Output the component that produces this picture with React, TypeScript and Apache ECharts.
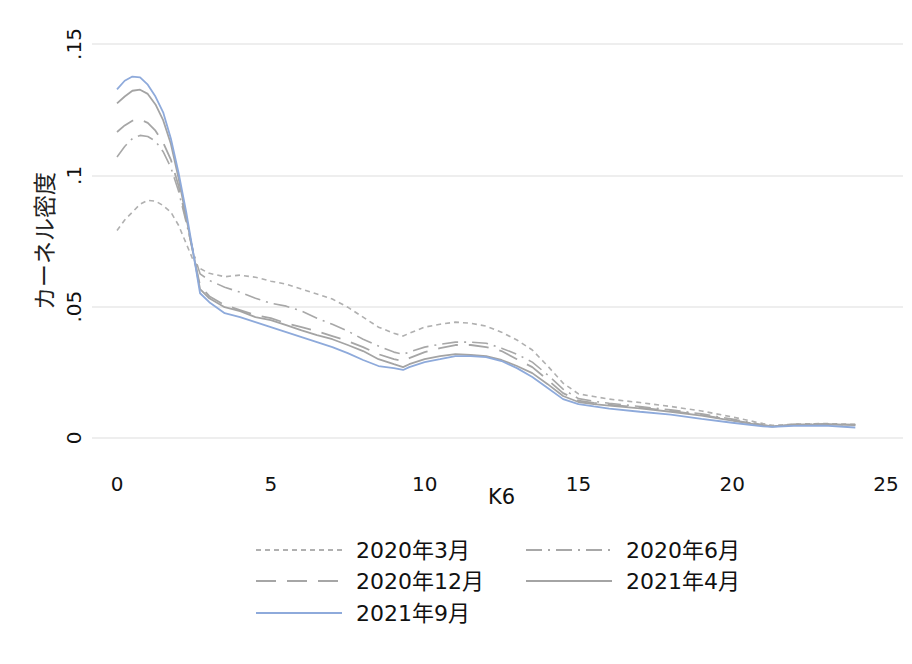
import React, { useEffect, useRef } from "react";
import * as echarts from "echarts";

const xs = [0, 0.25, 0.5, 0.75, 1, 1.25, 1.5, 1.75, 2, 2.25, 2.5, 2.7, 3, 3.5, 4, 4.5, 5, 5.5, 6, 6.5, 7, 7.5, 8, 8.5, 9, 9.3, 9.5, 10, 10.5, 11, 11.5, 12, 12.5, 13, 13.5, 14, 14.5, 15, 15.5, 16, 17, 18, 19, 20, 21, 21.3, 22, 23, 24];

const mar2020 = [0.079, 0.083, 0.086, 0.089, 0.0905, 0.0902, 0.0885, 0.086, 0.081, 0.074, 0.067, 0.0645, 0.0627, 0.0614, 0.062, 0.0612, 0.0597, 0.0586, 0.0567, 0.0548, 0.0529, 0.0498, 0.046, 0.0422, 0.0399, 0.0388, 0.0399, 0.0422, 0.0433, 0.0441, 0.0437, 0.0426, 0.0403, 0.0373, 0.0335, 0.0274, 0.0209, 0.0168, 0.0158, 0.0148, 0.0135, 0.012, 0.0103, 0.008, 0.0055, 0.0048, 0.0053, 0.0055, 0.0052];
const jun2020 = [0.107, 0.111, 0.114, 0.1152, 0.1148, 0.113, 0.109, 0.103, 0.094, 0.082, 0.07, 0.0625, 0.06, 0.0574, 0.0555, 0.0532, 0.0513, 0.0502, 0.0483, 0.0456, 0.0433, 0.0407, 0.0376, 0.035, 0.0327, 0.0319, 0.0327, 0.0346, 0.0357, 0.0365, 0.0365, 0.0361, 0.0342, 0.0319, 0.0289, 0.024, 0.0186, 0.015, 0.014, 0.0132, 0.012, 0.0107, 0.0092, 0.0072, 0.005, 0.0045, 0.0052, 0.0054, 0.0051];
const dec2020 = [0.1165, 0.119, 0.1208, 0.1212, 0.12, 0.117, 0.1125, 0.106, 0.096, 0.083, 0.069, 0.058, 0.054, 0.0506, 0.0487, 0.0468, 0.0456, 0.0437, 0.0422, 0.0407, 0.0388, 0.0369, 0.0346, 0.0319, 0.03, 0.0293, 0.0304, 0.0327, 0.0342, 0.0354, 0.0354, 0.0346, 0.0331, 0.03, 0.027, 0.0221, 0.0171, 0.0142, 0.0134, 0.0127, 0.0116, 0.0103, 0.0088, 0.0068, 0.0048, 0.0044, 0.0051, 0.0053, 0.005];
const apr2021 = [0.1274, 0.13, 0.1322, 0.1326, 0.131, 0.127, 0.121, 0.112, 0.099, 0.084, 0.069, 0.0567, 0.0532, 0.0498, 0.0483, 0.046, 0.0449, 0.043, 0.041, 0.0392, 0.0376, 0.0354, 0.0331, 0.03, 0.0281, 0.027, 0.0281, 0.03, 0.0312, 0.0319, 0.0316, 0.0312, 0.0297, 0.0274, 0.0247, 0.0205, 0.016, 0.0137, 0.0129, 0.0123, 0.0113, 0.01, 0.0085, 0.0066, 0.0047, 0.0043, 0.005, 0.0052, 0.0049];
const sep2021 = [0.1327, 0.136, 0.1376, 0.1373, 0.1345, 0.13, 0.124, 0.114, 0.101, 0.086, 0.069, 0.0551, 0.0517, 0.0475, 0.046, 0.0441, 0.0422, 0.0403, 0.0384, 0.0365, 0.0346, 0.0323, 0.0297, 0.0274, 0.0266, 0.0259, 0.027, 0.0289, 0.03, 0.0312, 0.0312, 0.0308, 0.0293, 0.0266, 0.0232, 0.019, 0.0148, 0.0129, 0.012, 0.0112, 0.01, 0.0089, 0.0073, 0.0058, 0.0044, 0.0042, 0.0046, 0.0047, 0.004];

const seriesNames = ["2020年3月", "2020年6月", "2020年12月", "2021年4月", "2021年9月"];
const xTicks = [0, 5, 10, 15, 20, 25];
const yTickLabels: Record<string, string> = { "0": "0", "0.05": ".05", "0.1": ".1", "0.15": ".15" };

const FONT = "'DejaVu Sans', 'Noto Sans CJK JP', sans-serif";

export default function App() {
  const ref = useRef<HTMLDivElement>(null);
  useEffect(() => {
    if (!ref.current) return;
    const chart = echarts.init(ref.current, null, { renderer: "svg" });
    const values = [mar2020, jun2020, dec2020, apr2021, sep2021];
    const styles = [
      { color: "#b0b0b0", type: [5, 4], width: 1.6 },
      { color: "#a8a8a8", type: [16, 6, 2, 6], width: 1.6 },
      { color: "#a6a6a6", type: [20, 11], width: 1.8 },
      { color: "#a4a4a4", type: "solid", width: 1.8 },
      { color: "#8eaadb", type: "solid", width: 1.8 },
    ];
    const legendPos = [
      { left: 255, top: 539 },
      { left: 525, top: 539 },
      { left: 255, top: 570 },
      { left: 525, top: 570 },
      { left: 255, top: 602 },
    ];
    chart.setOption({
      animation: false,
      backgroundColor: "#ffffff",
      textStyle: { fontFamily: FONT },
      grid: { left: 92, right: 9, top: 44, bottom: 226, containLabel: false },
      xAxis: {
        type: "value",
        min: -0.813,
        max: 25.55,
        name: "K6",
        nameLocation: "middle",
        nameGap: 48,
        nameMoveOverlap: false,
        nameTextStyle: { fontSize: 21, color: "#111", fontFamily: FONT, padding: [0, 0, 0, 8] },
        axisLine: { show: false },
        axisTick: { show: false },
        splitLine: { show: false },
        axisLabel: {
          customValues: xTicks,
          fontSize: 20,
          color: "#111",
          margin: 36,
          fontFamily: FONT,
        },
      },
      yAxis: {
        type: "value",
        min: 0,
        max: 0.15,
        interval: 0.05,
        name: "カーネル密度",
        nameLocation: "middle",
        nameGap: 36,
        nameTextStyle: { fontSize: 23, color: "#222", fontFamily: FONT },
        axisLine: { show: false },
        axisTick: { show: false },
        splitLine: { show: true, lineStyle: { color: "#e9e9e9", width: 1.5 } },
        axisLabel: {
          rotate: 90,
          fontSize: 20,
          color: "#111",
          margin: 8,
          fontFamily: FONT,
          formatter: (v: number) => yTickLabels[String(Math.round(v * 100) / 100)] ?? String(v),
        },
      },
      legend: seriesNames.map((n, i) => ({
        data: [n],
        left: legendPos[i].left,
        top: legendPos[i].top,
        padding: 0,
        itemWidth: 86,
        itemHeight: 14,
        selectedMode: false,
        itemStyle: { opacity: 0, borderWidth: 0 },
        textStyle: { fontSize: 22, color: "#111", fontFamily: FONT, padding: [0, 0, 0, 9] },
      })),
      series: seriesNames.map((n, i) => ({
        name: n,
        type: "line",
        symbol: "none",
        showSymbol: false,
        data: xs.map((x, j) => [x, values[i][j]]),
        lineStyle: styles[i],
        itemStyle: { color: styles[i].color },
        z: 2 + i,
      })),
    });
    return () => chart.dispose();
  }, []);
  return <div ref={ref} style={{ width: 912, height: 664, position: "absolute", left: 0, top: 0 }} />;
}
